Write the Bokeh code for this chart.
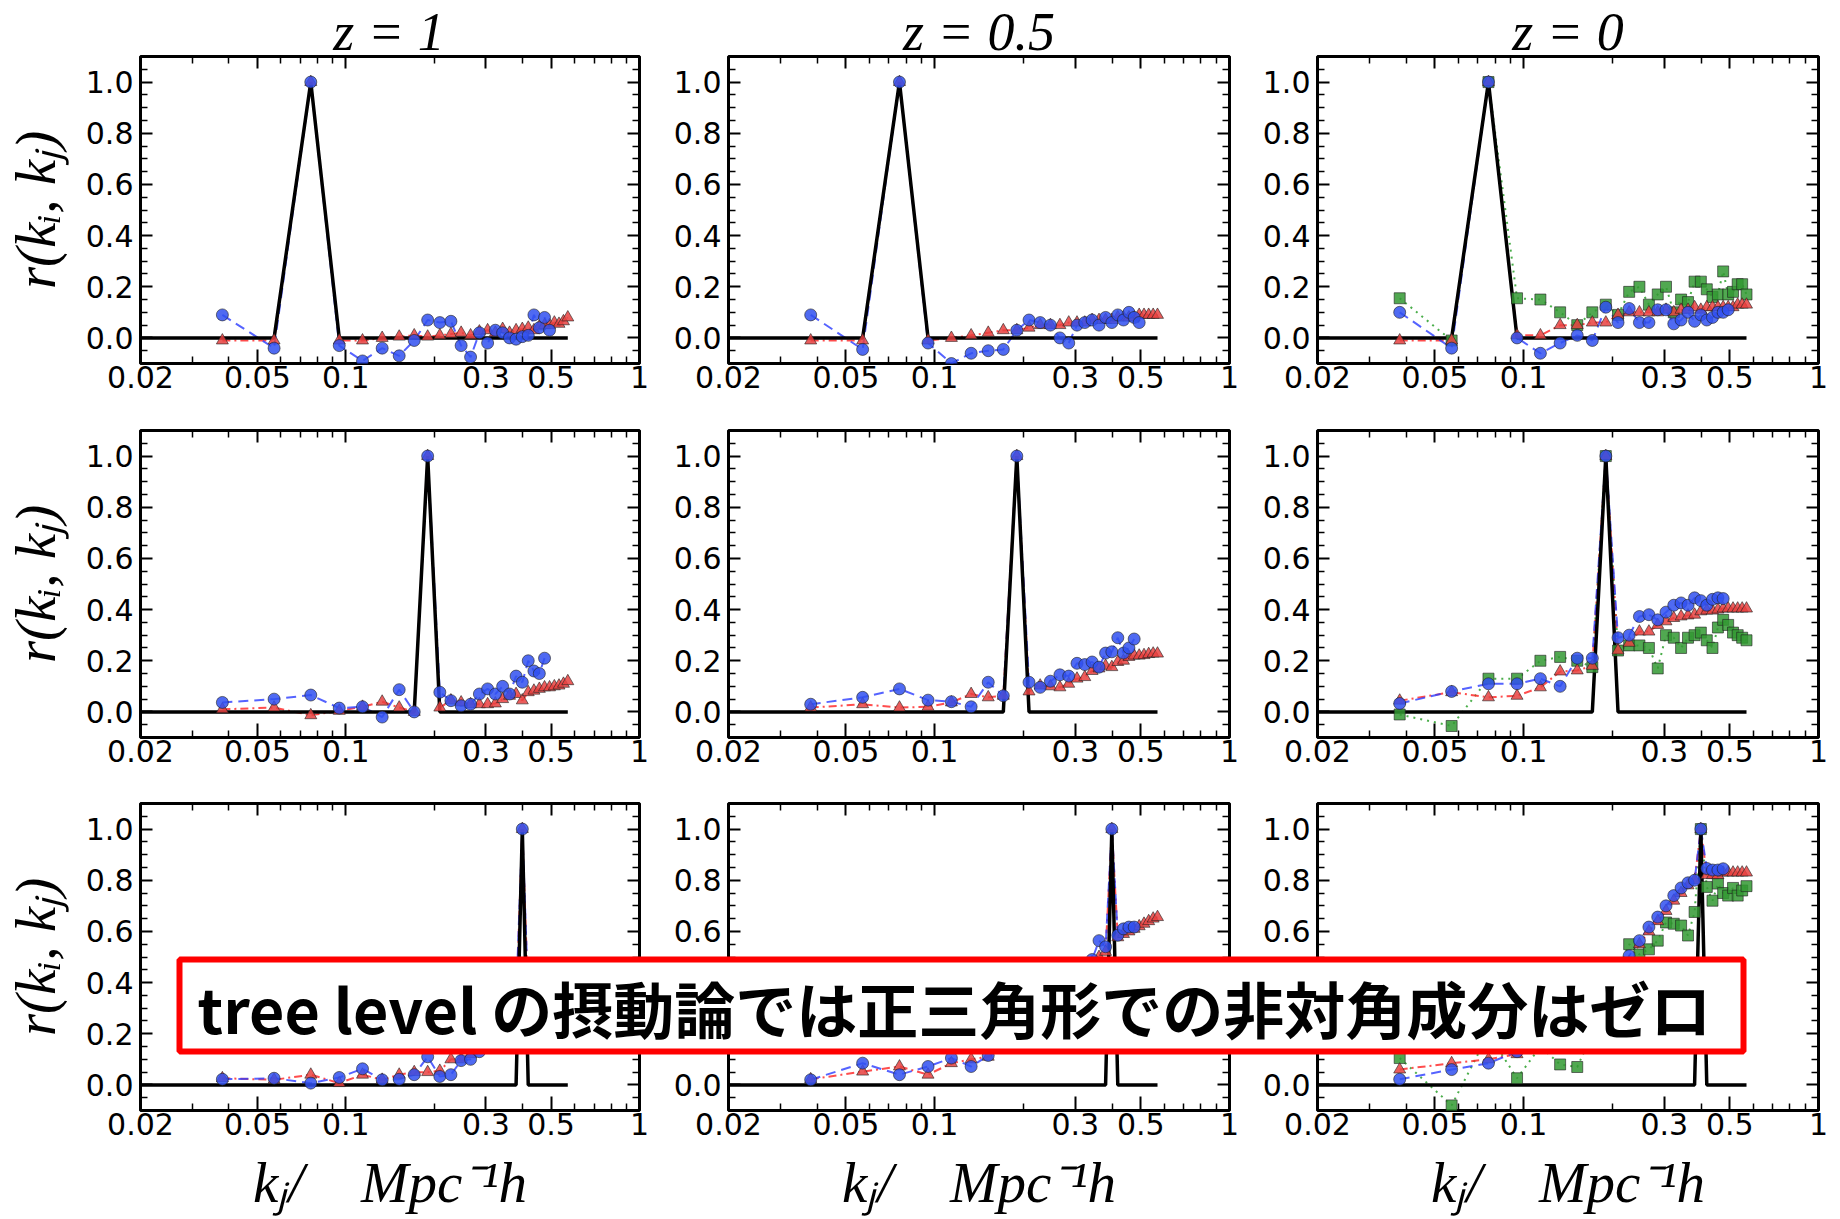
from bokeh.plotting import figure
from bokeh.layouts import gridplot
from bokeh.models import (LogAxis, LinearAxis, FixedTicker, CustomJSTickFormatter,
                          PrintfTickFormatter, Label, BoxAnnotation, Range1d)
from bokeh.embed import file_html
from bokeh.resources import INLINE

# ---------------- data ----------------
# k bins (h/Mpc), n = 2 .. 30
K = [0.038, 0.057, 0.076, 0.095, 0.114, 0.133, 0.152, 0.171, 0.190, 0.209,
     0.228, 0.247, 0.266, 0.285, 0.304, 0.323, 0.342, 0.361, 0.380, 0.399,
     0.418, 0.437, 0.456, 0.475, 0.494, 0.513, 0.532, 0.551, 0.570]
K_THEORY = [0.019] + K

TITLES = ["z = 1", "z = 0.5", "z = 0"]
X_TICKS = [0.02, 0.05, 0.1, 0.3, 0.5, 1.0]
X_MINOR = [0.03, 0.04, 0.06, 0.07, 0.08, 0.09, 0.2, 0.4, 0.6, 0.7, 0.8, 0.9]
Y_TICKS = [0.0, 0.2, 0.4, 0.6, 0.8, 1.0]
Y_MINOR = [-0.1, -0.05, 0.05, 0.1, 0.15, 0.25, 0.3, 0.35, 0.45, 0.5, 0.55,
           0.65, 0.7, 0.75, 0.85, 0.9, 0.95, 1.05, 1.1]
Y_LABEL = "r(kᵢ, kⱼ)"
X_LABEL = "kⱼ/\u00a0\u00a0\u00a0\u00a0Mpc⁻¹h"
NOTE = "tree level の摂動論では正三角形での非対角成分はゼロ"

# tree-level theory (one per row)
THEORY_ROW1 = [0, 0, 0, 1, 0, 0, 0, 0, 0, 0, 0, 0, 0, 0, 0,
               0, 0, 0, 0, 0, 0, 0, 0, 0, 0, 0, 0, 0, 0, 0]
THEORY_ROW2 = [0, 0, 0, 0, 0, 0, 0, 0, 0, 1, 0, 0, 0, 0, 0,
               0, 0, 0, 0, 0, 0, 0, 0, 0, 0, 0, 0, 0, 0, 0]
THEORY_ROW3 = [0, 0, 0, 0, 0, 0, 0, 0, 0, 0, 0, 0, 0, 0, 0,
               0, 0, 0, 0, 0, 1, 0, 0, 0, 0, 0, 0, 0, 0, 0]

# row 1 (k_i ~ 0.076)
R1_Z1_BLUE = [0.09, -0.04, 1.0, -0.03, -0.09, -0.04, -0.07, -0.01, 0.07, 0.06, 0.065, -0.03,
              -0.075, 0.02, -0.02, 0.03, 0.02, 0.0, -0.005, 0.005, 0.01, 0.09, 0.04, 0.08, 0.03]
R1_Z1_RED = [-0.01, -0.01, 1.0, -0.01, -0.01, 0.0, 0.005, 0.01, 0.005, 0.01, 0.015, 0.02, 0.01,
             0.025, 0.03, 0.02, 0.035, 0.02, 0.03, 0.035, 0.04, 0.03, 0.045, 0.05, 0.05, 0.06,
             0.055, 0.065, 0.08]
R1_Z05_BLUE = [0.09, -0.045, 1.0, -0.02, -0.1, -0.06, -0.05, -0.045, 0.03, 0.07, 0.06, 0.05,
               0.0, -0.02, 0.05, 0.06, 0.07, 0.05, 0.08, 0.06, 0.09, 0.07, 0.1, 0.08, 0.06]
R1_Z05_RED = [-0.01, -0.01, 1.0, -0.01, 0.0, 0.01, 0.02, 0.03, 0.03, 0.04, 0.05, 0.05, 0.05,
              0.06, 0.06, 0.06, 0.07, 0.07, 0.07, 0.07, 0.08, 0.08, 0.08, 0.08, 0.09, 0.09,
              0.09, 0.09, 0.09]
R1_Z0_BLUE = [0.10, -0.04, 1.0, 0.0, -0.06, -0.02, 0.01, -0.01, 0.12, 0.06, 0.115, 0.06, 0.06,
              0.11, 0.11, 0.055, 0.07, 0.10, 0.065, 0.09, 0.07, 0.08, 0.10, 0.10, 0.11]
R1_Z0_RED = [-0.01, -0.01, 1.0, 0.01, 0.01, 0.05, 0.05, 0.06, 0.06, 0.09, 0.10, 0.10, 0.10,
             0.10, 0.11, 0.10, 0.11, 0.11, 0.12, 0.11, 0.12, 0.12, 0.12, 0.12, 0.12, 0.12,
             0.13, 0.13, 0.13]
R1_Z0_GREEN = [0.155, -0.01, 1.0, 0.155, 0.15, 0.10, 0.05, 0.10, 0.13, 0.09, 0.18, 0.20, 0.13,
               0.17, 0.20, 0.10, 0.15, 0.14, 0.22, 0.22, 0.19, 0.16, 0.17, 0.26, 0.17, 0.18,
               0.21, 0.21, 0.17]

# row 2 (k_i ~ 0.19)
R2_Z1_BLUE = [0.037, 0.05, 0.066, 0.015, 0.02, -0.02, 0.087, 0.0, 1.0, 0.077, 0.044, 0.024,
              0.03, 0.07, 0.09, 0.07, 0.10, 0.07, 0.14, 0.116, 0.20, 0.16, 0.15, 0.21]
R2_Z1_RED = [0.01, 0.017, -0.013, 0.004, 0.02, 0.04, 0.017, 0.0, 1.0, 0.017, 0.045, 0.037,
             0.03, 0.03, 0.03, 0.033, 0.05, 0.063, 0.07, 0.045, 0.077, 0.083, 0.09, 0.096,
             0.096, 0.1, 0.103, 0.11, 0.12]
R2_Z05_BLUE = [0.03, 0.057, 0.09, 0.046, 0.04, 0.02, 0.116, 0.063, 1.0, 0.116, 0.096, 0.12,
               0.145, 0.14, 0.19, 0.185, 0.195, 0.175, 0.23, 0.235, 0.29, 0.23, 0.25, 0.285]
R2_Z05_RED = [0.017, 0.03, 0.017, 0.02, 0.037, 0.07, 0.057, 0.063, 1.0, 0.08, 0.103, 0.1,
              0.096, 0.11, 0.13, 0.136, 0.16, 0.17, 0.18, 0.175, 0.195, 0.2, 0.215, 0.22,
              0.22, 0.222, 0.226, 0.228, 0.228]
R2_Z0_BLUE = [0.033, 0.08, 0.11, 0.11, 0.13, 0.10, 0.21, 0.21, 1.0, 0.29, 0.30, 0.373, 0.38,
              0.36, 0.39, 0.417, 0.426, 0.417, 0.446, 0.435, 0.417, 0.44, 0.446, 0.443]
R2_Z0_RED = [0.044, 0.077, 0.057, 0.063, 0.096, 0.158, 0.162, 0.18, 1.0, 0.24, 0.27, 0.314,
             0.314, 0.34, 0.354, 0.367, 0.373, 0.377, 0.38, 0.393, 0.396, 0.396, 0.40, 0.404,
             0.404, 0.404, 0.404, 0.404, 0.404]
R2_Z0_GREEN = [-0.01, -0.055, 0.13, 0.13, 0.2, 0.215, 0.2, 0.175, 1.0, 0.24, 0.26, 0.26, 0.25,
               0.17, 0.30, 0.29, 0.25, 0.29, 0.30, 0.31, 0.28, 0.25, 0.33, 0.36, 0.34, 0.31,
               0.30, 0.29, 0.28]

# row 3 (k_i ~ 0.40)
R3_Z1_BLUE = [0.022, 0.026, 0.007, 0.029, 0.063, 0.02, 0.022, 0.04, 0.11, 0.033, 0.04, 0.095,
              0.10, 0.13, 0.16, 0.2, 0.24, 0.28, 0.33, 1.0, 0.35, 0.37, 0.38, 0.4]
R3_Z1_RED = [0.026, 0.02, 0.04, 0.007, 0.04, 0.02, 0.04, 0.05, 0.05, 0.055, 0.1, 0.1, 0.12,
             0.14, 0.17, 0.2, 0.24, 0.27, 0.3, 1.0, 0.33, 0.35, 0.36, 0.37, 0.39, 0.4, 0.41,
             0.42, 0.43]
R3_Z05_BLUE = [0.02, 0.085, 0.04, 0.072, 0.105, 0.072, 0.115, 0.15, 0.19, 0.23, 0.27, 0.31,
               0.35, 0.39, 0.43, 0.46, 0.49, 0.564, 0.54, 1.0, 0.585, 0.61, 0.617, 0.617]
R3_Z05_RED = [0.022, 0.052, 0.072, 0.04, 0.085, 0.10, 0.11, 0.14, 0.18, 0.22, 0.26, 0.3, 0.34,
              0.38, 0.42, 0.45, 0.48, 0.5, 0.52, 1.0, 0.577, 0.59, 0.6, 0.61, 0.62, 0.63, 0.64,
              0.65, 0.656]
R3_Z0_BLUE = [0.022, 0.06, 0.085, 0.13, 0.15, 0.18, 0.22, 0.26, 0.30, 0.39, 0.505, 0.564,
              0.617, 0.656, 0.70, 0.74, 0.77, 0.79, 0.80, 1.0, 0.846, 0.84, 0.84, 0.845]
R3_Z0_RED = [0.06, 0.085, 0.1, 0.12, 0.15, 0.18, 0.21, 0.25, 0.29, 0.37, 0.48, 0.55, 0.60,
             0.64, 0.68, 0.72, 0.75, 0.78, 0.80, 1.0, 0.82, 0.82, 0.82, 0.83, 0.83, 0.83,
             0.83, 0.83, 0.83]
R3_Z0_GREEN = [0.105, -0.08, 0.2, 0.026, 0.15, 0.08, 0.07, 0.2, 0.3, 0.45, 0.55, 0.51, 0.53,
               0.564, 0.635, 0.63, 0.623, 0.584, 0.676, 1.0, 0.774, 0.72, 0.787, 0.75, 0.74,
               0.77, 0.74, 0.76, 0.777]

THEORY = [THEORY_ROW1, THEORY_ROW2, THEORY_ROW3]
PANELS = [
    [(R1_Z1_BLUE, R1_Z1_RED, None), (R1_Z05_BLUE, R1_Z05_RED, None), (R1_Z0_BLUE, R1_Z0_RED, R1_Z0_GREEN)],
    [(R2_Z1_BLUE, R2_Z1_RED, None), (R2_Z05_BLUE, R2_Z05_RED, None), (R2_Z0_BLUE, R2_Z0_RED, R2_Z0_GREEN)],
    [(R3_Z1_BLUE, R3_Z1_RED, None), (R3_Z05_BLUE, R3_Z05_RED, None), (R3_Z0_BLUE, R3_Z0_RED, R3_Z0_GREEN)],
]

# ---------------- layout ----------------
FRAME_W, FRAME_H = 501, 307
COL_LEFT = [138, 68, 72]
COL_RIGHT = [21, 16, 21]
ROW_TOP = [56, 29, 28]
ROW_BOTTOM = [38, 38, 108]
PAGE_W = sum(COL_LEFT) + sum(COL_RIGHT) + 3 * FRAME_W
PAGE_H = sum(ROW_TOP) + sum(ROW_BOTTOM) + 3 * FRAME_H

BLUE_L, BLUE_F = "#2b3cff", "#3050f0"
RED_L, RED_F = "#ff2020", "#e8413f"
GREEN_L, GREEN_F = "#1e9a1e", "#339933"
EDGE = "#202020"
TICK_FONT = "DejaVu Sans"
MATH_FONT = "Liberation Serif"


def style_axis(ax, labels, major_len):
    ax.axis_line_color = None
    ax.major_tick_in = major_len
    ax.major_tick_out = 0
    ax.minor_tick_in = 7
    ax.minor_tick_out = 0
    ax.major_tick_line_width = 2
    ax.minor_tick_line_width = 1.5
    ax.major_tick_line_color = "black"
    ax.minor_tick_line_color = "black"
    if labels:
        ax.major_label_text_font = TICK_FONT
        ax.major_label_text_font_size = "30px"
        ax.major_label_text_color = "black"
    else:
        ax.major_label_text_font_size = "0px"
        ax.major_label_standoff = 0


def make_panel(r, c):
    lb, rb, tb, bb = COL_LEFT[c], COL_RIGHT[c], ROW_TOP[r], ROW_BOTTOM[r]
    p = figure(width=lb + FRAME_W + rb, height=tb + FRAME_H + bb,
               x_axis_type="log", x_range=(0.02, 1.0), y_range=(-0.1, 1.1),
               output_backend="svg", toolbar_location=None,
               min_border_left=lb, min_border_right=rb,
               min_border_top=tb, min_border_bottom=bb)
    p.grid.visible = False
    p.outline_line_color = "black"
    p.outline_line_width = 3
    p.background_fill_color = "white"
    p.border_fill_color = "white"

    xa = p.xaxis[0]
    xa.ticker = FixedTicker(ticks=X_TICKS, minor_ticks=X_MINOR)
    xa.formatter = CustomJSTickFormatter(code="return String(Math.round(tick*100)/100);")
    style_axis(xa, True, 14)
    xa.major_label_standoff = 2

    ya = p.yaxis[0]
    ya.ticker = FixedTicker(ticks=Y_TICKS, minor_ticks=Y_MINOR)
    ya.formatter = PrintfTickFormatter(format="%.1f")
    style_axis(ya, True, 12)
    ya.major_label_standoff = 7

    top = LogAxis(ticker=FixedTicker(ticks=X_TICKS, minor_ticks=X_MINOR),
                  formatter=CustomJSTickFormatter(code="return '';"))
    style_axis(top, False, 12)
    p.add_layout(top, "above")
    right = LinearAxis(ticker=FixedTicker(ticks=Y_TICKS, minor_ticks=Y_MINOR),
                       formatter=CustomJSTickFormatter(code="return '';"))
    style_axis(right, False, 12)
    p.add_layout(right, "right")

    if c == 0:
        ya.axis_label = Y_LABEL
        ya.axis_label_text_font = MATH_FONT
        ya.axis_label_text_font_style = "italic"
        ya.axis_label_text_font_size = "57px"
        ya.axis_label_text_color = "black"
        ya.axis_label_standoff = 16
    if r == 2:
        xa.axis_label = X_LABEL
        xa.axis_label_text_font = MATH_FONT
        xa.axis_label_text_font_style = "italic"
        xa.axis_label_text_font_size = "57px"
        xa.axis_label_text_color = "black"
        xa.axis_label_standoff = 13

    blue, red, green = PANELS[r][c]
    if green is not None:
        p.line(K[:len(green)], green, line_color=GREEN_L, line_width=2,
               line_dash="2 5", line_alpha=0.8)
    p.line(K[:len(red)], red, line_color=RED_L, line_width=2,
           line_dash="8 4 2 4", line_alpha=0.8)
    p.line(K[:len(blue)], blue, line_color=BLUE_L, line_width=2,
           line_dash="10 6", line_alpha=0.8)
    p.line(K_THEORY, THEORY[r], line_color="black", line_width=3.5)
    if green is not None:
        p.scatter(K[:len(green)], green, marker="square", size=11,
                  fill_color=GREEN_F, fill_alpha=0.85, line_color=EDGE,
                  line_alpha=0.6, line_width=1)
    p.scatter(K[:len(red)], red, marker="triangle", size=12,
              fill_color=RED_F, fill_alpha=0.85, line_color=EDGE,
              line_alpha=0.6, line_width=1)
    p.scatter(K[:len(blue)], blue, marker="circle", size=12,
              fill_color=BLUE_F, fill_alpha=0.85, line_color=EDGE,
              line_alpha=0.6, line_width=1)
    return p


rows = [[make_panel(r, c) for c in range(3)] for r in range(3)]
grid = gridplot(rows, toolbar_location=None)

# ---------------- transparent overlay: column titles and red note box ----------------
ov = figure(width=PAGE_W, height=PAGE_H,
            x_range=Range1d(0, PAGE_W), y_range=Range1d(PAGE_H, 0),
            output_backend="svg", toolbar_location=None, min_border=0,
            x_axis_location=None, y_axis_location=None,
            styles={"position": "absolute", "left": "0px", "top": "0px",
                    "z-index": "10"})
ov.grid.visible = False
ov.outline_line_color = None
ov.background_fill_alpha = 0
ov.border_fill_alpha = 0

x0 = 0
for c in range(3):
    cx = x0 + COL_LEFT[c] + FRAME_W / 2
    ov.add_layout(Label(x=cx, y=1, text=TITLES[c], text_align="center",
                        text_baseline="top", text_font=MATH_FONT,
                        text_font_style="italic", text_font_size="54px",
                        text_color="black"))
    x0 += COL_LEFT[c] + FRAME_W + COL_RIGHT[c]

ov.add_layout(BoxAnnotation(left=179, right=1743, top=959, bottom=1051,
                            fill_color="white", fill_alpha=1.0,
                            line_color="#ff0000", line_alpha=1.0, line_width=6))
ov.add_layout(Label(x=197, y=1007, text=NOTE, text_baseline="middle",
                    text_font="Noto Sans CJK JP", text_font_style="bold",
                    text_font_size="61px", text_color="black"))

open("out.html", "w").write(file_html([grid, ov], INLINE))
